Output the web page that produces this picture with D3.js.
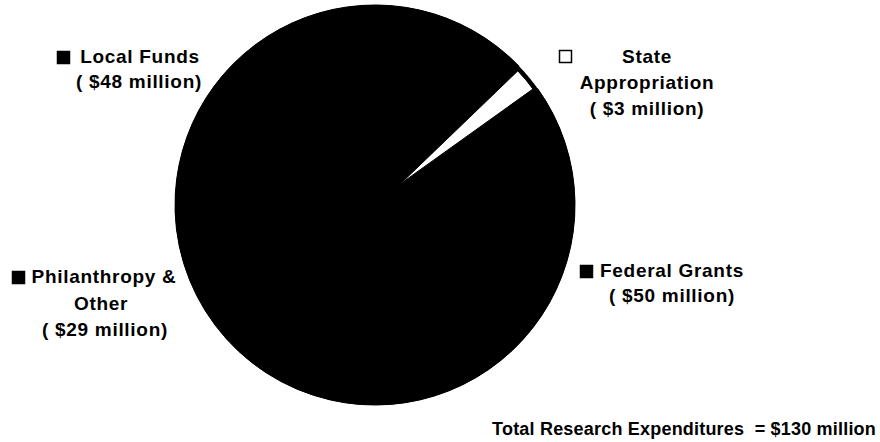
<!DOCTYPE html>
<html>
<head>
<meta charset="utf-8">
<script src="https://cdn.jsdelivr.net/npm/d3@7"></script>
<style>
  body { margin: 0; background: #fff; }
  svg text { font-family: "Liberation Sans", Arial, sans-serif; font-weight: bold; fill: #000; }
</style>
</head>
<body>
<div id="chart"></div>
<script>
// data, clockwise from the white slice
const categories = ['State Appropriation', 'Federal Grants', 'Philanthropy & Other', 'Local Funds'];
const values = [3, 50, 29, 48];
const colors = ['#fff', '#000', '#000', '#000'];
// label lines per category (first line gets the legend marker)
const labelLines = [
  ['State', 'Appropriation', '( $3 million)'],
  ['Federal Grants', '( $50 million)'],
  ['Philanthropy &', 'Other', '( $29 million)'],
  ['Local Funds', '( $48 million)'],
];
const totalLabel = 'Total Research Expenditures  = $130 million';

const width = 880;
const height = 442;
const cx = 375;
const cy = 205;
const radius = 200;

const svg = d3.select('#chart')
  .append('svg')
    .attr('width', width)
    .attr('height', height);

const pie = d3.pie()
  .sort(null)
  .value(d => d)
  .startAngle(46.1 * Math.PI / 180)
  .endAngle(46.1 * Math.PI / 180 + 2 * Math.PI);

const arcs = pie(values);

const arc = d3.arc().innerRadius(0).outerRadius(radius);
// the white slice is pulled out a little and drawn smaller
const smallArc = d3.arc().innerRadius(0).outerRadius(163);

const g = svg.append('g')
  .attr('transform', `translate(${cx}, ${cy})`);

// dark disc behind the slices
g.append('circle')
  .attr('r', radius)
  .attr('fill', '#000');

g.selectAll('.slice')
    .data(arcs)
  .enter().append('path')
    .attr('class', 'slice')
    .attr('d', (d, i) => i === 0 ? smallArc(d) : arc(d))
    .attr('transform', (d, i) => {
      if (i !== 0) return null;
      const mid = (d.startAngle + d.endAngle) / 2;
      return `translate(${Math.sin(mid) * 33}, ${-Math.cos(mid) * 33})`;
    })
    .attr('fill', (d, i) => colors[i])
    .attr('stroke', '#000')
    .attr('stroke-width', 1);

// label layout: marker box, then centre/baseline of each line
const labelPos = [
  { mx: 559, my: 50, lines: [[647, 63], [647, 89], [647, 115]] },
  { mx: 580, my: 265, lines: [[672, 277], [672, 302]] },
  { mx: 12, my: 271, lines: [[104, 283], [101, 310], [105, 336]] },
  { mx: 57, my: 51, lines: [[140, 63], [139, 88]] },
];

const labels = svg.selectAll('.label')
    .data(categories)
  .enter().append('g')
    .attr('class', 'label');

labels.append('rect')
  .attr('x', (d, i) => labelPos[i].mx + 0.5)
  .attr('y', (d, i) => labelPos[i].my + 0.5)
  .attr('width', 12)
  .attr('height', 12)
  .attr('fill', (d, i) => colors[i])
  .attr('stroke', '#000')
  .attr('stroke-width', 1.5);

labels.each(function(d, i) {
  d3.select(this).selectAll('text')
      .data(labelLines[i])
    .enter().append('text')
      .attr('x', (t, j) => labelPos[i].lines[j][0])
      .attr('y', (t, j) => labelPos[i].lines[j][1])
      .attr('text-anchor', 'middle')
      .style('font-size', '19px')
      .style('letter-spacing', '0.7px')
      .text(t => t);
});

svg.append('text')
  .attr('x', 876)
  .attr('y', 435)
  .attr('text-anchor', 'end')
  .style('font-size', '18px')
  .style('letter-spacing', '0.2px')
  .style('white-space', 'pre')
  .text(totalLabel);
</script>
</body>
</html>
